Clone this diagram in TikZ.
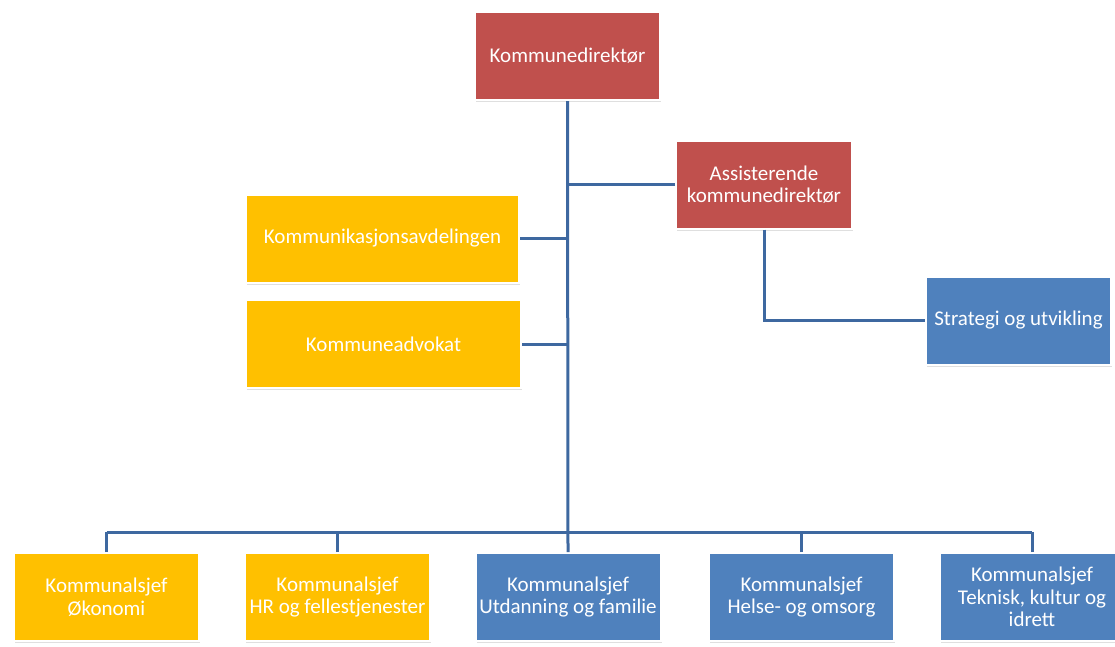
\documentclass[tikz,border=0pt]{standalone}
\usepackage{fontspec}
\setmainfont{Carlito}
\usetikzlibrary{shadows}

\definecolor{dirred}{RGB}{192,80,77}
\definecolor{staffgold}{RGB}{255,192,0}
\definecolor{unitblue}{RGB}{79,129,189}
\definecolor{linkblue}{RGB}{62,104,160}

\tikzset{
  orgbox/.style={draw=white, line width=2pt, text=white, align=center,
    font=\fontsize{21}{22.5}\selectfont, minimum height=88pt, inner sep=2pt,
    drop shadow={shadow xshift=1pt, shadow yshift=-2pt, opacity=0.25}},
  redbox/.style={orgbox, fill=dirred},
  goldbox/.style={orgbox, fill=staffgold},
  bluebox/.style={orgbox, fill=unitblue},
  link/.style={draw=linkblue, line width=3pt},
}

\begin{document}
\begin{tikzpicture}[x=1pt,y=-1pt]
	\clip (0,0) rectangle (1115,646);
	\useasboundingbox (0,0) rectangle (1115,646);

	% Ledelse
	\node[redbox, minimum width=185pt] (dir) at (567.5,56) {Kommunedirektør};
	\node[redbox, minimum width=176pt] (assist) at (764,184.5) {Assisterende\\kommunedirektør};

	% Stab
	\node[goldbox, minimum width=273pt] (komm) at (382.5,238.5) {Kommunikasjonsavdelingen};
	\node[goldbox, minimum width=275pt] (advokat) at (383.5,344) {Kommuneadvokat};
	\node[bluebox, minimum width=185pt] (strategi) at (1018.5,320.5) {Strategi og utvikling};

	% Kommunalsjefer
	\foreach \name/\x/\col/\txt in {
		b1/106.5/staffgold/{Kommunalsjef\\Økonomi},
		b2/337.5/staffgold/{Kommunalsjef\\HR og fellestjenester},
		b3/568/unitblue/{Kommunalsjef\\Utdanning og familie},
		b4/801.5/unitblue/{Kommunalsjef\\Helse- og omsorg},
		b5/1032/unitblue/{Kommunalsjef\\Teknisk, kultur og\\idrett}}
	\node[orgbox, fill=\col, minimum width=185pt] (\name) at (\x,597) {\txt};

	\coordinate (bus) at (567.5,532);

	% Linjer
	\draw[link] (dir.south) -- (b3.north);
	\draw[link] (assist.west) -- (assist.west -| dir.south);
	\draw[link] (komm.east) -- (komm.east -| dir.south);
	\draw[link] (advokat.east) -- (advokat.east -| dir.south);
	\draw[link] (assist.south) |- (strategi.west);
	\draw[link] (b1.north |- bus) -- (b5.north |- bus);
	\foreach \name in {b1,b2,b4,b5}
	\draw[link] (\name.north) -- (\name.north |- bus);
\end{tikzpicture}
\end{document}
